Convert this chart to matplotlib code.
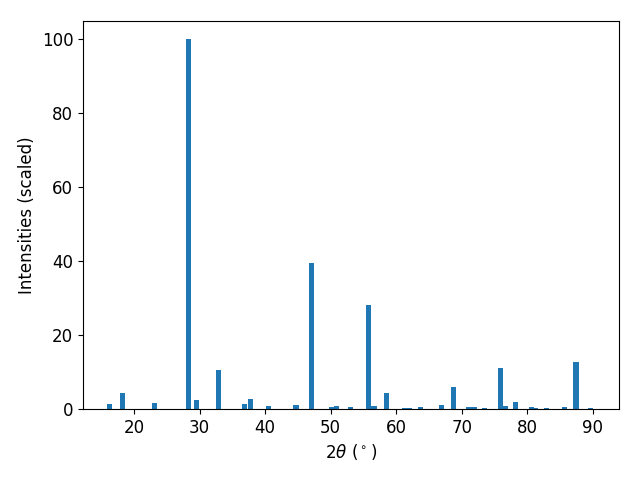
import matplotlib
matplotlib.use("Agg")
import matplotlib.pyplot as plt

two_theta = [16.3, 18.25, 23.1, 28.3, 29.5, 32.9, 36.8, 37.75, 40.5, 44.7,
             47.06, 50.1, 50.9, 53.0, 55.8, 56.6, 58.5, 61.3, 62.0, 63.75,
             66.9, 68.7, 71.1, 71.9, 73.5, 75.9, 76.6, 78.2, 80.6, 81.3,
             82.9, 85.7, 87.45, 89.7]
intensity = [1.4, 4.3, 1.6, 100.0, 2.4, 10.6, 1.4, 2.7, 0.8, 1.1,
             39.5, 0.5, 0.8, 0.5, 28.2, 0.8, 4.3, 0.3, 0.3, 0.5,
             1.1, 6.0, 0.5, 0.5, 0.3, 11.1, 0.8, 1.9, 0.5, 0.3,
             0.3, 0.5, 12.8, 0.3]

plt.rcParams["font.size"] = 12
fig, ax = plt.subplots(figsize=(6.4, 4.8), dpi=100)
ax.bar(two_theta, intensity, width=0.8)
ax.set_xlim(12.2, 94.0)
ax.set_xlabel(r"$2\theta$ ($^\circ$)")
ax.set_ylabel("Intensities (scaled)")
fig.subplots_adjust(left=83/640, right=619/640, top=1-21/480, bottom=1-409/480)
fig.savefig("out.png")
